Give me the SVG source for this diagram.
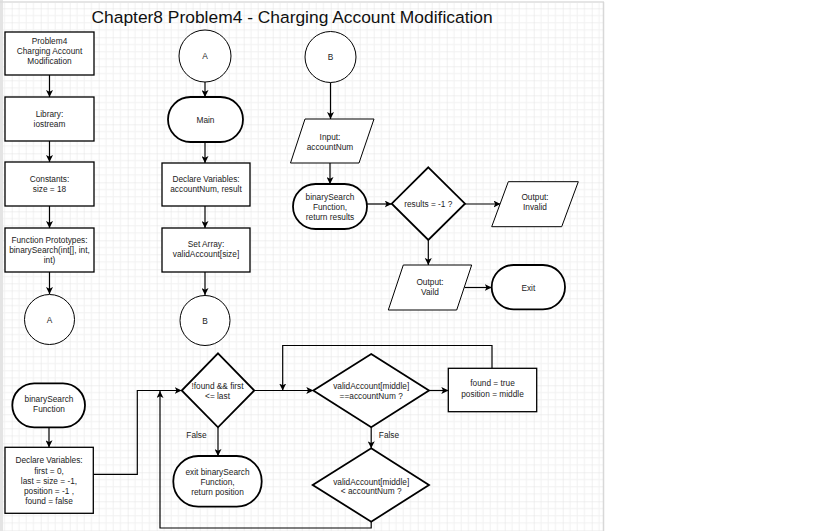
<svg xmlns="http://www.w3.org/2000/svg" width="816" height="531" viewBox="0 0 816 531">
<defs>
<pattern id="grid" patternUnits="userSpaceOnUse" x="11.7" y="8.3" width="29" height="29">
<path d="M7.25 0V29M14.5 0V29M21.75 0V29M0 7.25H29M0 14.5H29M0 21.75H29" stroke="#f1f1f1" stroke-width="1" fill="none"/>
<path d="M0 0V29M0 0H29" stroke="#e2e2e2" stroke-width="1" fill="none"/>
</pattern>
<marker id="arr" viewBox="0 0 10 10" refX="10" refY="5" markerWidth="7" markerHeight="7" markerUnits="userSpaceOnUse" orient="auto">
<path d="M0 0L10 5L0 10L2.5 5Z" fill="#000"/>
</marker>
<style>
.t{font-family:"Liberation Sans",Arial,sans-serif;font-size:8.3px;fill:#222;text-anchor:middle}
.rect{fill:#fff;stroke:#000;stroke-width:1.3}
.term{fill:#fff;stroke:#000;stroke-width:1.8}
.dia{fill:#fff;stroke:#000;stroke-width:1.8}
.circ{fill:#fff;stroke:#000;stroke-width:1}
.para{fill:#fff;stroke:#000;stroke-width:1}
.c{fill:none;stroke:#000;stroke-width:1.2}
.ca{fill:none;stroke:#000;stroke-width:1.2;marker-end:url(#arr)}
</style>
</defs>
<rect x="0" y="0" width="816" height="531" fill="#fff"/>
<rect x="3" y="3" width="600" height="528" fill="url(#grid)"/>
<rect x="0" y="0" width="3" height="531" fill="#e4e4e4"/>
<line x1="0" y1="2" x2="604" y2="2" stroke="#dcdcdc" stroke-width="1.5"/>
<line x1="603.5" y1="2" x2="603.5" y2="531" stroke="#d8d8d8" stroke-width="1.5"/>
<text x="91.5" y="22.5" font-family="'Liberation Sans',Arial,sans-serif" font-size="17.4" fill="#111">Chapter8 Problem4 - Charging Account Modification</text>

<g id="connectors">
<line class="ca" x1="49.5" y1="75" x2="49.5" y2="97"/>
<line class="ca" x1="49.5" y1="141" x2="49.5" y2="162"/>
<line class="ca" x1="49.5" y1="206" x2="49.5" y2="228"/>
<line class="ca" x1="49.5" y1="272" x2="49.5" y2="294"/>
<line class="ca" x1="205" y1="82" x2="205" y2="97"/>
<line class="ca" x1="205" y1="142" x2="205" y2="163"/>
<line class="ca" x1="205" y1="206" x2="205" y2="228"/>
<line class="ca" x1="205" y1="272" x2="205" y2="295"/>
<line class="ca" x1="330.5" y1="82.5" x2="330.5" y2="119"/>
<line class="ca" x1="330" y1="163" x2="330" y2="184"/>
<line class="ca" x1="367" y1="204" x2="391.7" y2="204"/>
<line class="ca" x1="465" y1="204" x2="500.5" y2="204"/>
<line class="ca" x1="428.3" y1="240" x2="428.3" y2="265"/>
<line class="ca" x1="464.5" y1="287.5" x2="491.7" y2="287.5"/>
<line class="ca" x1="49" y1="427.3" x2="49" y2="447.3"/>
<polyline class="ca" points="93.3,474.3 137.3,474.3 137.3,390.5 181.7,390.5"/>
<polyline class="ca" points="371.2,521.7 371.2,528 160,528 160,391"/>
<line class="ca" x1="218" y1="427.3" x2="218" y2="456"/>
<line class="ca" x1="254.3" y1="390.5" x2="313.3" y2="390.5"/>
<polyline class="ca" points="492,368.3 492,345.5 282.7,345.5 282.7,390.5"/>
<line class="ca" x1="429" y1="390.5" x2="448.3" y2="390.5"/>
<line class="ca" x1="371.2" y1="427.3" x2="371.2" y2="448.3"/>
<text class="t" x="196.5" y="438" font-size="8.8">False</text>
<text class="t" x="389" y="438" font-size="8.8">False</text>
</g>

<g id="n_problem4">
<rect class="rect" x="5" y="32" width="89" height="43"/>
<text class="t" x="49.5" y="44">Problem4</text>
<text class="t" x="49.5" y="54">Charging Account</text>
<text class="t" x="49.5" y="64">Modification</text>
</g>
<g id="n_library">
<rect class="rect" x="5" y="97" width="89" height="44"/>
<text class="t" x="49.5" y="117">Library:</text>
<text class="t" x="49.5" y="127">iostream</text>
</g>
<g id="n_constants">
<rect class="rect" x="5" y="162" width="89" height="44"/>
<text class="t" x="49.5" y="182">Constants:</text>
<text class="t" x="49.5" y="192">size = 18</text>
</g>
<g id="n_prototypes">
<rect class="rect" x="5" y="228" width="89" height="44"/>
<text class="t" x="49.5" y="243">Function Prototypes:</text>
<text class="t" x="49.5" y="253">binarySearch(int[], int,</text>
<text class="t" x="49.5" y="263">int)</text>
</g>
<g id="n_a1">
<circle class="circ" cx="49.5" cy="319.5" r="25"/>
<text class="t" x="49.5" y="322.5">A</text>
</g>

<g id="n_a2">
<circle class="circ" cx="205" cy="56" r="26"/>
<text class="t" x="205" y="59">A</text>
</g>
<g id="n_main">
<rect class="term" x="168" y="97" width="75" height="45" rx="22.5"/>
<text class="t" x="205.5" y="122.5">Main</text>
</g>
<g id="n_declare1">
<rect class="rect" x="162" y="163" width="88" height="43"/>
<text class="t" x="206" y="182">Declare Variables:</text>
<text class="t" x="206" y="192">accountNum, result</text>
</g>
<g id="n_setarray">
<rect class="rect" x="162" y="228" width="88" height="44"/>
<text class="t" x="206" y="247">Set Array:</text>
<text class="t" x="206" y="257">validAccount[size]</text>
</g>
<g id="n_b1">
<circle class="circ" cx="205" cy="320.5" r="25"/>
<text class="t" x="205" y="323.5">B</text>
</g>

<g id="n_b2">
<circle class="circ" cx="330.5" cy="57" r="25.5"/>
<text class="t" x="330.5" y="60">B</text>
</g>
<g id="n_input">
<polygon class="para" points="305,119 374,119 359,163 290.5,163"/>
<text class="t" x="330" y="139.5">Input:</text>
<text class="t" x="330" y="149.5">accountNum</text>
</g>
<g id="n_bsearch_call">
<rect class="term" x="293" y="184" width="74" height="45" rx="22.5"/>
<text class="t" x="330" y="199.5">binarySearch</text>
<text class="t" x="330" y="209.5">Function,</text>
<text class="t" x="330" y="219.5">return results</text>
</g>
<g id="n_results">
<polygon class="dia" points="428.3,167.3 465,203.7 428.3,240 391.7,203.7"/>
<text class="t" x="428.3" y="207">results = -1 ?</text>
</g>
<g id="n_invalid">
<polygon class="para" points="508.3,181.7 578.3,181.7 561.7,226.7 491.7,226.7"/>
<text class="t" x="535" y="199.5">Output:</text>
<text class="t" x="535" y="209.5">Invalid</text>
</g>
<g id="n_valid">
<polygon class="para" points="403.3,265 471.7,265 456.7,310 388.3,310"/>
<text class="t" x="430" y="284.5">Output:</text>
<text class="t" x="430" y="294.5">Vaild</text>
</g>
<g id="n_exit">
<rect class="term" x="491.7" y="265" width="73.3" height="44.3" rx="22"/>
<text class="t" x="528.3" y="290.5">Exit</text>
</g>

<g id="n_bsearch_fn">
<rect class="term" x="12.3" y="383.3" width="72.7" height="44" rx="22"/>
<text class="t" x="49" y="402.3">binarySearch</text>
<text class="t" x="49" y="412.3">Function</text>
</g>
<g id="n_declare2">
<rect class="rect" x="5" y="447.3" width="88.3" height="66"/>
<text class="t" x="49" y="463">Declare Variables:</text>
<text class="t" x="49" y="473.5">first = 0,</text>
<text class="t" x="49" y="483.5">last = size = -1,</text>
<text class="t" x="49" y="493.5">position = -1 ,</text>
<text class="t" x="49" y="504">found = false</text>
</g>
<g id="n_while">
<polygon class="dia" points="218,353.3 254.3,390.5 218,427.3 181.7,390.5"/>
<text class="t" x="217.5" y="388.7">!found &amp;&amp; first</text>
<text class="t" x="217.5" y="398.7">&lt;= last</text>
</g>
<g id="n_exit_fn">
<rect class="term" x="173.3" y="456" width="88.4" height="50.7" rx="25"/>
<text class="t" x="217.5" y="474.7">exit binarySearch</text>
<text class="t" x="217.5" y="484.7">Function,</text>
<text class="t" x="217.5" y="494.7">return position</text>
</g>
<g id="n_equal">
<polygon class="dia" points="371.2,354 429,390.5 371.2,427.3 313.3,390.5"/>
<text class="t" x="371.2" y="388.7">validAccount[middle]</text>
<text class="t" x="371.2" y="399">==accountNum ?</text>
</g>
<g id="n_found">
<rect class="rect" x="448.3" y="368.3" width="88.4" height="43.4"/>
<text class="t" x="492.5" y="386.3">found = true</text>
<text class="t" x="492.5" y="397.3">position = middle</text>
</g>
<g id="n_less">
<polygon class="dia" points="371.2,448.3 429,485 371.2,521.7 312.7,485"/>
<text class="t" x="371.2" y="484.7">validAccount[middle]</text>
<text class="t" x="371.2" y="493.7">&lt; accountNum ?</text>
</g>
</svg>
